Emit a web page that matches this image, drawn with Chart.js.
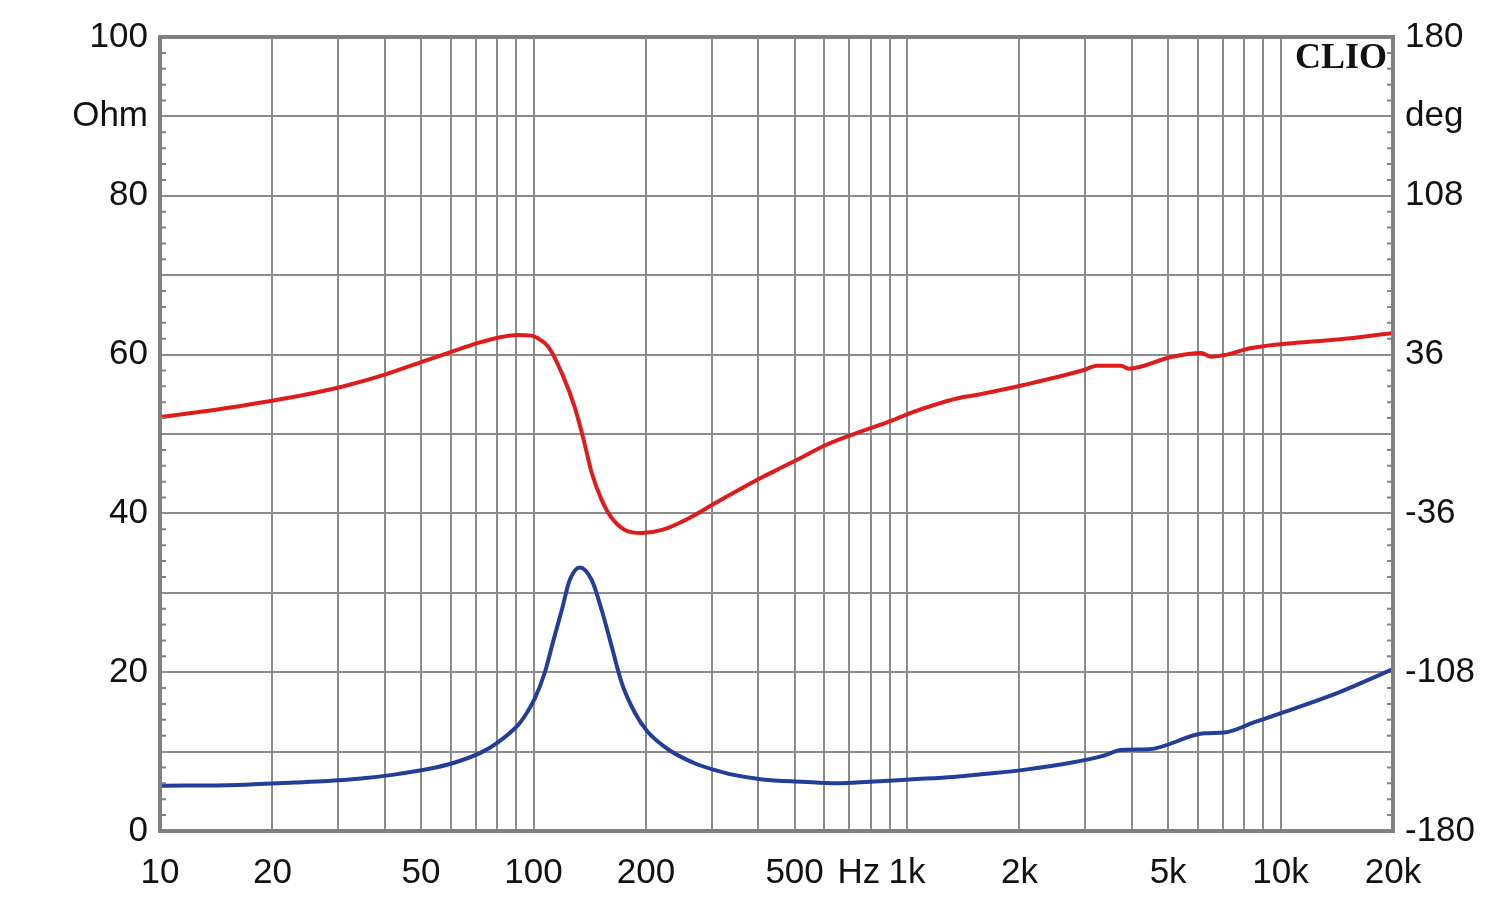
<!DOCTYPE html>
<html lang="en">
<head>
<meta charset="UTF-8">
<title>Impedance and phase</title>
<script src="https://cdn.jsdelivr.net/npm/chart.js"></script>
<style>
    body { margin: 0; background: #fff; }
    .wrap { width: 1500px; height: 905px; }
</style>
</head>
<body>
<div class="wrap"><canvas id="myChart"></canvas></div>
<script>
    // impedance magnitude (Ohm, left axis)
    const impFreq = [10, 16.1, 22.8, 28.1, 34.5, 42.3, 52.2, 61.3, 72.5, 80.5, 91.1, 96, 100.6, 107.1, 113.2, 119, 125, 133,
        143.2, 152.3, 162, 172.4, 186.8, 201.3, 230.7, 270.9, 304.8, 340.6, 410.3, 525.4, 644.4, 795.4, 1019, 1330, 1631,
        2050, 2743, 3365, 3738, 4444, 6248, 7071, 8513, 10250, 14230, 20000];
    const impOhm = [5.7, 5.8, 6.1, 6.3, 6.6, 7.1, 7.8, 8.6, 9.9, 11.2, 13.4, 14.9, 16.6, 19.9, 24.1, 27.8, 31.6, 33.2,
        31.6, 27.8, 23.2, 18.6, 14.9, 12.6, 10.2, 8.5, 7.7, 7.1, 6.5, 6.2, 6.0, 6.2, 6.5, 6.8, 7.2,
        7.7, 8.6, 9.5, 10.2, 10.3, 12.3, 12.4, 13.7, 15.0, 17.4, 20.4];

    // phase (deg, right axis)
    const phaseFreq = [10, 12.3, 15.1, 19.8, 24.8, 30.5, 39.8, 50, 60.2, 71.1, 82, 91.1, 98.8, 104, 109.7, 119, 128.9, 136.3,
        143.2, 152.3, 162, 175.6, 195.1, 220.9, 261.1, 306.6, 410.3, 464.2, 525.4, 605.9, 707.2, 917.1, 1019, 1414, 1477,
        2050, 2972, 3222, 3738, 3927, 5093, 6134, 6523, 7071, 8356, 10900, 14230, 20000];
    const phaseDeg = [7.7, 9.6, 11.8, 15.0, 18.0, 21.3, 26.8, 32.6, 37.2, 41.3, 44.0, 44.9, 44.6, 42.8, 39.4, 27.7, 12.2, -2.8,
        -17.7, -30.0, -38.1, -43.5, -44.9, -43.5, -38.1, -31.3, -19.5, -15.0, -10.4, -5.0, -0.5, 6.3, 9.5, 16.8, 17.2,
        22.2, 29.0, 31.0, 31.0, 29.6, 34.9, 36.7, 35.0, 35.8, 39.0, 41.3, 42.8, 45.8];

    const freqGrid = [10, 20, 30, 40, 50, 60, 70, 80, 90, 100, 200, 300, 400, 500, 600, 700, 800, 900,
        1000, 2000, 3000, 4000, 5000, 6000, 7000, 8000, 9000, 10000, 20000];
    // the unit sits between 500 and 1k, pushed a little to the right
    const freqLabels = {10: '10', 20: '20', 50: '50', 100: '100', 200: '200', 500: '500', 700: '  Hz',
        1000: '1k', 2000: '2k', 5000: '5k', 10000: '10k', 20000: '20k'};
    const ohmLabels = {0: '0', 20: '20', 40: '40', 60: '60', 80: '80', 90: 'Ohm', 100: '100'};
    const degLabels = {'-180': '-180', '-108': '-108', '-36': '-36', '36': '36', '108': '108', '144': 'deg', '180': '180'};

    const gridColor = '#8c8c8c';
    const labelFont = { family: '"Liberation Sans", Arial, sans-serif', size: 35 };

    const framePlugin = {
        id: 'frame',
        afterDraw(chart) {
            const { ctx, chartArea: a, scales } = chart;
            ctx.save();
            ctx.strokeStyle = '#808080';
            ctx.lineWidth = 2;
            for (let v = 2; v < 100; v += 2) {
                if (v % 10 === 0) continue;
                const y = scales.y.getPixelForValue(v);
                ctx.beginPath();
                ctx.moveTo(a.left, y); ctx.lineTo(a.left + 6, y);
                ctx.moveTo(a.right, y); ctx.lineTo(a.right - 6, y);
                ctx.stroke();
            }
            ctx.lineWidth = 4;
            ctx.strokeRect(a.left, a.top, a.right - a.left, a.bottom - a.top);
            ctx.font = 'bold 36px "Liberation Serif", serif';
            ctx.textAlign = 'right';
            ctx.textBaseline = 'alphabetic';
            ctx.fillStyle = '#111';
            ctx.fillText('CLIO', a.right - 6, a.top + 31);
            ctx.restore();
        }
    };

    const ctx = document.getElementById('myChart').getContext('2d');
    new Chart(ctx, {
        type: 'line',
        data: {
            datasets: [{
                label: 'Phase',
                data: phaseFreq.map((f, i) => ({ x: f, y: phaseDeg[i] })),
                yAxisID: 'y2',
                borderColor: 'rgb(222, 28, 28)',
                borderWidth: 4,
                pointRadius: 0,
                cubicInterpolationMode: 'monotone'
            }, {
                label: 'Impedance',
                data: impFreq.map((f, i) => ({ x: f, y: impOhm[i] })),
                yAxisID: 'y',
                borderColor: 'rgb(35, 62, 152)',
                borderWidth: 4,
                pointRadius: 0,
                cubicInterpolationMode: 'monotone'
            }]
        },
        options: {
            responsive: true,
            maintainAspectRatio: false,
            animation: false,
            layout: { padding: { top: 37, left: 0, right: 0, bottom: 0 } },
            plugins: { legend: { display: false }, tooltip: { enabled: false } },
            scales: {
                x: {
                    type: 'logarithmic',
                    min: 10,
                    max: 20000,
                    afterBuildTicks: s => { s.ticks = freqGrid.map(v => ({ value: v })); },
                    afterFit: s => { s.height = 74; },
                    grid: { color: gridColor, lineWidth: 2, drawTicks: false },
                    border: { display: false },
                    ticks: {
                        autoSkip: false,
                        maxRotation: 0,
                        padding: 21,
                        color: '#111',
                        font: labelFont,
                        callback: v => freqLabels[v] || ''
                    }
                },
                y: {
                    position: 'left',
                    min: 0,
                    max: 100,
                    afterFit: s => { s.width = 160; },
                    grid: { color: gridColor, lineWidth: 2, drawTicks: false },
                    border: { display: false },
                    ticks: {
                        stepSize: 10,
                        autoSkip: false,
                        padding: 12,
                        color: '#111',
                        font: labelFont,
                        callback: v => ohmLabels[v] || ''
                    }
                },
                y2: {
                    position: 'right',
                    min: -180,
                    max: 180,
                    afterFit: s => { s.width = 107; },
                    grid: { drawOnChartArea: false, drawTicks: false },
                    border: { display: false },
                    ticks: {
                        stepSize: 36,
                        autoSkip: false,
                        padding: 12,
                        color: '#111',
                        font: labelFont,
                        callback: v => degLabels[String(v)] || ''
                    }
                }
            }
        },
        plugins: [framePlugin]
    });
</script>
</body>
</html>
